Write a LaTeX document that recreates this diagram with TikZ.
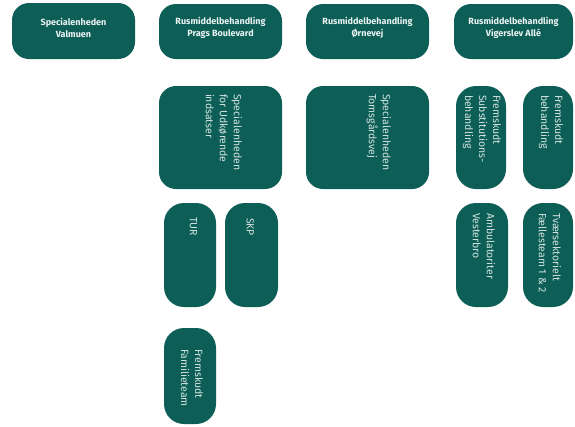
\documentclass[tikz,border=0pt]{standalone}
\usepackage{fontspec}
\setmainfont{Fira Sans}
\definecolor{unitgreen}{RGB}{12,94,86}
\definecolor{unitlabel}{RGB}{236,244,242}
\definecolor{sidelabel}{RGB}{210,227,224}
\tikzset{
    unit/.style={fill=unitgreen, rounded corners=17pt, inner sep=0pt},
    narrow/.style={unit, rounded corners=20pt},
    boxsize/.style 2 args={minimum width=#1pt, minimum height=#2pt},
    toplabel/.style={text=unitlabel, align=center, inner sep=0pt,
        font=\bfseries\fontsize{9}{11.5}\selectfont},
    sidetext/.style={text=sidelabel, align=left, inner sep=0pt, rotate=-90,
        anchor=north west, font=\fontsize{10.5}{14}\selectfont}
}
\begin{document}
\begin{tikzpicture}[x=1pt, y=-1pt]
    \useasboundingbox (0,0) rectangle (575,426);
    % top row
    \node [unit, boxsize={123}{56}] (valmuen) at (73.5,31) {};
    \node [unit, boxsize={123}{55}] (prags) at (220.5,31.5) {};
    \node [unit, boxsize={123}{55}] (ornevej) at (367.5,31.5) {};
    \node [unit, boxsize={119}{55}] (vigerslev) at (513.5,31.5) {};
    \node [toplabel] (valmuen-txt) at (73.5,28) {Specialenheden\\Valmuen};
    \node [toplabel] (prags-txt) at (220.5,28) {Rusmiddelbehandling\\Prags Boulevard};
    \node [toplabel] (ornevej-txt) at (367.5,28) {Rusmiddelbehandling\\Ørnevej};
    \node [toplabel] (vigerslev-txt) at (513.5,28) {Rusmiddelbehandling\\Vigerslev Allé};
    % second row
    \node [unit, boxsize={123}{103}] (udkorende) at (220.5,137.5) {};
    \node [unit, boxsize={123}{103}] (tomsgaard) at (367.5,137.5) {};
    \node [narrow, boxsize={50}{103}] (substitution) at (481,137.5) {};
    \node [narrow, boxsize={50}{103}] (fremskudt) at (548,137.5) {};
    \node [sidetext] (udkorende-txt) at ([xshift=-40pt, yshift=-8pt]udkorende.north east) {Specialenheden\\for Udkørende\\indsatser};
    \node [sidetext] (tomsgaard-txt) at ([xshift=-38pt, yshift=-8pt]tomsgaard.north east) {Specialenheden\\Tomsgårdsvej};
    \node [sidetext] (substitution-txt) at ([xshift=-5pt, yshift=-9pt]substitution.north east) {Fremskudt\\Substitutions-\\behandling};
    \node [sidetext] (fremskudt-txt) at ([xshift=-10pt, yshift=-9pt]fremskudt.north east) {Fremskudt\\behandling};
    % third row
    \node [narrow, boxsize={52}{104}] (tur) at (190,255) {};
    \node [narrow, boxsize={53}{104}] (skp) at (251.5,255) {};
    \node [narrow, boxsize={52}{104}] (ambulatorier) at (482,255) {};
    \node [narrow, boxsize={50}{104}] (tvaer) at (548,255) {};
    \node [sidetext] (tur-txt) at ([xshift=-19pt, yshift=-14pt]tur.north east) {TUR};
    \node [sidetext] (skp-txt) at ([xshift=-24pt, yshift=-15pt]skp.north east) {SKP};
    \node [sidetext] (ambulatorier-txt) at ([xshift=-13pt, yshift=-10pt]ambulatorier.north east) {Ambulatoriter\\Vesterbro};
    \node [sidetext] (tvaer-txt) at ([xshift=-12pt, yshift=-10pt]tvaer.north east) {Tværsektorielt\\Fællesteam 1 \& 2};
    % fourth row
    \node [narrow, boxsize={52}{96}] (familie) at (190,376) {};
    \node [sidetext] (familie-txt) at ([xshift=-13pt, yshift=-21pt]familie.north east) {Fremskudt\\Familieteam};
\end{tikzpicture}
\end{document}
